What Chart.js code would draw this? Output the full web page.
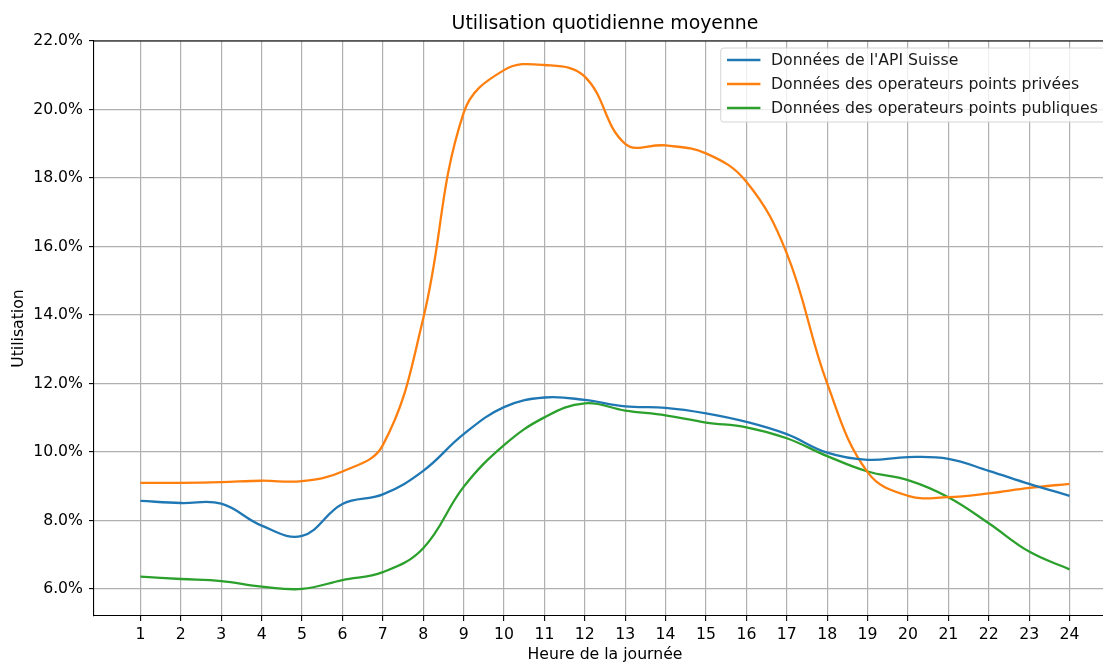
<!DOCTYPE html>
<html lang="fr">
<head>
<meta charset="utf-8">
<title>Utilisation quotidienne moyenne</title>
<script src="https://cdn.jsdelivr.net/npm/chart.js@4.4.1/dist/chart.umd.min.js"></script>
<style>
  html, body { margin: 0; padding: 0; background: #fff; overflow: hidden; }
  #wrap { width: 1140px; height: 664px; }
</style>
</head>
<body>
<div id="wrap"><canvas id="myChart" width="1140" height="664"></canvas></div>
<script>
// Data (utilisation in %)
const hours = [1, 2, 3, 4, 5, 6, 7, 8, 9, 10, 11, 12, 13, 14, 15, 16, 17, 18, 19, 20, 21, 22, 23, 24];
const apiSuisse = [8.57, 8.51, 8.49, 7.85, 7.55, 8.48, 8.76, 9.45, 10.52, 11.31, 11.59, 11.52,
  11.33, 11.29, 11.13, 10.88, 10.52, 9.98, 9.77, 9.85, 9.80, 9.45, 9.07, 8.72];
const pointsPrivees = [9.10, 9.10, 9.12, 9.16, 9.15, 9.43, 10.20, 13.9, 19.9, 21.15, 21.3, 20.96,
  19.0, 18.95, 18.72, 17.89, 15.80, 12.0, 9.41, 8.72, 8.68, 8.79, 8.95, 9.07];
const pointsPubliques = [6.36, 6.29, 6.23, 6.07, 6.00, 6.26, 6.49, 7.19, 8.98, 10.20, 11.01, 11.42,
  11.21, 11.07, 10.86, 10.72, 10.40, 9.88, 9.43, 9.18, 8.68, 7.92, 7.09, 6.57];
const yTicks = [6, 8, 10, 12, 14, 16, 18, 20, 22];

const seriesNames = [
  "Données de l'API Suisse",
  "Données des operateurs points privées",
  "Données des operateurs points publiques"
];
const seriesColors = ['#1f77b4', '#ff7f0e', '#2ca02c'];

const FONT = '"DejaVu Sans", Verdana, sans-serif';
const FS = 15.7;

function toPoints(values) {
  return values.map((v, i) => ({ x: hours[i], y: v }));
}

// matplotlib-like frame: top spine + legend box in the upper right
const framePlugin = {
  id: 'frame',
  afterDatasetsDraw(chart) {
    const ctx = chart.ctx;
    const area = chart.chartArea;
    ctx.save();
    ctx.strokeStyle = '#000';
    ctx.lineWidth = 1.1;
    ctx.beginPath();
    ctx.moveTo(area.left, area.top);
    ctx.lineTo(area.right, area.top);
    ctx.lineTo(area.right, area.bottom);
    ctx.stroke();
    ctx.restore();
  },
  afterDraw(chart) {
    const ctx = chart.ctx;
    const area = chart.chartArea;
    const sets = chart.data.datasets;
    ctx.save();
    ctx.font = FS + 'px ' + FONT;
    const textW = Math.max(...sets.map(d => ctx.measureText(d.label).width));
    const pad = 0.4 * FS, handle = 2 * FS, gap = 0.8 * FS, rowH = 24;
    const right = area.right - 0.5 * FS;
    const top = area.top + 7;
    const w = pad + handle + gap + textW + pad + 4;
    const h = sets.length * rowH + 2;
    const left = right - w;

    ctx.beginPath();
    ctx.roundRect(left, top, w, h, 3);
    ctx.fillStyle = 'rgba(255,255,255,0.8)';
    ctx.fill();
    ctx.strokeStyle = '#d4d4d4';
    ctx.lineWidth = 1;
    ctx.stroke();

    sets.forEach((d, i) => {
      const cy = top + 12 + i * rowH;
      ctx.strokeStyle = d.borderColor;
      ctx.lineWidth = 2.3;
      ctx.beginPath();
      ctx.moveTo(left + pad, cy);
      ctx.lineTo(left + pad + handle + 2, cy);
      ctx.stroke();
      ctx.fillStyle = '#1a1a1a';
      ctx.textBaseline = 'middle';
      ctx.textAlign = 'left';
      ctx.fillText(d.label, left + pad + handle + gap, cy + 1);
    });
    ctx.restore();
  }
};

const ctx = document.getElementById('myChart').getContext('2d');
const myChart = new Chart(ctx, {
  type: 'line',
  data: {
    datasets: [
      { label: seriesNames[0], data: toPoints(apiSuisse) },
      { label: seriesNames[1], data: toPoints(pointsPrivees) },
      { label: seriesNames[2], data: toPoints(pointsPubliques) }
    ].map((d, i) => Object.assign(d, {
      borderColor: seriesColors[i],
      backgroundColor: seriesColors[i],
      borderWidth: 2.3,
      pointRadius: 0,
      tension: 0.4,
      fill: false
    }))
  },
  options: {
    responsive: false,
    animation: false,
    events: [],
    layout: { padding: { left: 0, right: 24, top: 0, bottom: 0 } },
    plugins: {
      legend: { display: false },
      tooltip: { enabled: false },
      title: {
        display: true,
        fullSize: false,
        text: 'Utilisation quotidienne moyenne',
        color: '#000',
        font: { family: FONT, size: 18.85, weight: 'normal', lineHeight: 1.2 },
        padding: { top: 13, bottom: 5.4 }
      }
    },
    scales: {
      x: {
        type: 'linear',
        min: -0.15,
        max: 25.15,
        afterBuildTicks: (scale) => { scale.ticks = hours.map(h => ({ value: h })); },
        afterFit: (scale) => { scale.height = 48; },
        ticks: {
          autoSkip: false,
          maxRotation: 0,
          color: '#000',
          padding: 5,
          font: { family: FONT, size: FS },
          callback: (v) => String(v)
        },
        grid: { color: '#b0b0b0', lineWidth: 1.2, tickColor: '#000', tickLength: 5, tickWidth: 1.1 },
        border: { color: '#000', width: 1.1 },
        title: {
          display: true,
          text: 'Heure de la journée',
          color: '#000',
          font: { family: FONT, size: FS },
          padding: { top: 0, bottom: 0 }
        }
      },
      y: {
        type: 'linear',
        min: 5.21,
        max: 22.0,
        afterBuildTicks: (scale) => { scale.ticks = yTicks.map(v => ({ value: v })); },
        afterFit: (scale) => { scale.width = 94; },
        ticks: {
          color: '#000',
          padding: 6,
          font: { family: FONT, size: FS },
          callback: (v) => v.toFixed(1) + '%'
        },
        grid: { color: '#b0b0b0', lineWidth: 1.2, tickColor: '#000', tickLength: 5, tickWidth: 1.1 },
        border: { color: '#000', width: 1.1 },
        title: {
          display: true,
          text: 'Utilisation',
          color: '#000',
          font: { family: FONT, size: FS },
          padding: { top: 10, bottom: 0 }
        }
      }
    }
  },
  plugins: [framePlugin]
});
</script>
</body>
</html>
